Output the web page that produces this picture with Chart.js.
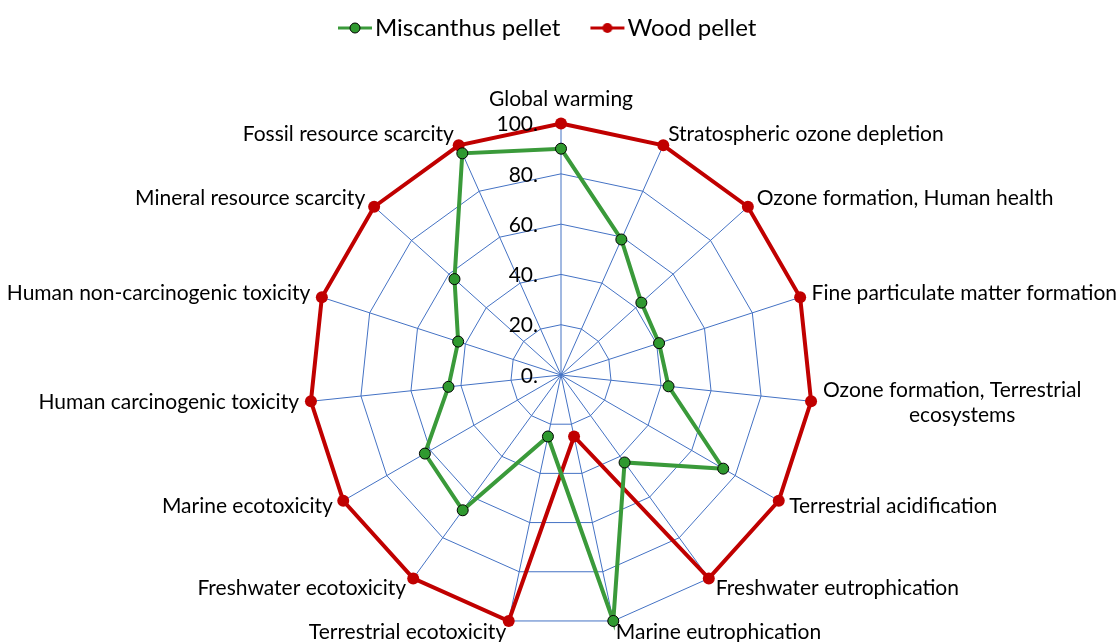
<!DOCTYPE html>
<html>
<head>
<meta charset="utf-8">
<script src="https://cdn.jsdelivr.net/npm/chart.js@4.4.1/dist/chart.umd.min.js"></script>
<style>
html, body { margin: 0; padding: 0; background: #fff; overflow: hidden; }
#wrap { position: relative; width: 1118px; height: 694px; }
</style>
</head>
<body>
<div id="wrap"><canvas id="radar"></canvas></div>
<script>
// categories
var categories = [
  "Global warming",
  "Stratospheric ozone depletion",
  "Ozone formation, Human health",
  "Fine particulate matter formation",
  ["Ozone formation, Terrestrial", "\u00a0".repeat(16) + "ecosystems"],
  "Terrestrial acidification",
  "Freshwater eutrophication",
  "Marine eutrophication",
  "Terrestrial ecotoxicity",
  "Freshwater ecotoxicity",
  "Marine ecotoxicity",
  "Human carcinogenic toxicity",
  "Human non-carcinogenic toxicity",
  "Mineral resource scarcity",
  "Fossil resource scarcity"
];

// series values (%)
var miscanthus = [90, 59, 43, 41, 43, 74.5, 43, 100, 25, 66.5, 62.5, 45, 43, 57, 96.5];
var wood = [100, 100, 100, 100, 100, 100, 100, 25, 100, 100, 100, 100, 100, 100, 100];

// tick labels
var tickValues = [0, 20, 40, 60, 80, 100];
var tickLabels = ["0.", "20.", "40.", "60.", "80.", "100."];

var FONT = "Lato";

// legend icon: line with a marker in the middle
function legendIcon(color, fill, border) {
  var c = document.createElement("canvas");
  c.width = 49;
  c.height = 16;
  var g = c.getContext("2d");
  g.strokeStyle = color;
  g.lineWidth = 3;
  g.beginPath();
  g.moveTo(12, 8);
  g.lineTo(46, 8);
  g.stroke();
  g.beginPath();
  g.arc(29, 8, 5, 0, Math.PI * 2);
  g.fillStyle = fill;
  g.fill();
  if (border) {
    g.lineWidth = 1;
    g.strokeStyle = border;
    g.stroke();
  }
  return c;
}

var icons = [
  legendIcon("#3a9a3a", "#2f992f", "#000"),
  legendIcon("#c00000", "#c00000", null)
];

// tick labels drawn at the scale's own ring positions
var tickLabelPlugin = {
  id: "tickLabelPlugin",
  afterDatasetsDraw: function (chart) {
    var s = chart.scales.r;
    var ctx = chart.ctx;
    ctx.save();
    ctx.font = "21px " + FONT;
    ctx.fillStyle = "#000";
    ctx.textAlign = "right";
    ctx.textBaseline = "middle";
    tickValues.forEach(function (v, i) {
      var p = s.getPointPositionForValue(0, v);
      ctx.fillText(tickLabels[i], p.x - 23, p.y + 1);
    });
    ctx.restore();
  }
};

// centre side labels vertically on their anchor, as Excel does
function centreLabels(scale) {
  var items = scale._pointLabelItems;
  if (!items) return;
  var n = items.length;
  items.forEach(function (it, i) {
    var deg = Math.round(i * 360 / n);
    if (deg === 0 || deg === 180) return;
    var h = it.bottom - it.top;
    var dy = (deg < 90 || deg > 270) ? h / 2 : -h / 2;
    it.y += dy;
    it.top += dy;
    it.bottom += dy;
  });
}

new Chart(document.getElementById("radar").getContext("2d"), {
  type: "radar",
  data: {
    labels: categories,
    datasets: [
      {
        label: "Miscanthus pellet",
        data: miscanthus,
        borderColor: "#3a9a3a",
        borderWidth: 4,
        pointBackgroundColor: "#2f992f",
        pointBorderColor: "#000",
        pointBorderWidth: 1,
        pointRadius: 5.5,
        fill: false,
        tension: 0
      },
      {
        label: "Wood pellet",
        data: wood,
        borderColor: "#c00000",
        borderWidth: 4,
        pointBackgroundColor: "#c00000",
        pointBorderColor: "#c00000",
        pointBorderWidth: 0,
        pointRadius: 6,
        fill: false,
        tension: 0
      }
    ]
  },
  options: {
    responsive: true,
    maintainAspectRatio: false,
    animation: false,
    layout: { padding: { left: 7, right: 0, top: -14, bottom: 0 } },
    plugins: {
      legend: {
        position: "top",
        labels: {
          usePointStyle: true,
          pointStyleWidth: 25,
          padding: 30,
          color: "#000",
          font: { family: FONT, size: 24 },
          generateLabels: function (chart) {
            return chart.data.datasets.map(function (ds, i) {
              return {
                text: i === 1 ? ds.label + "\u00a0".repeat(5) : ds.label,
                pointStyle: icons[i],
                fillStyle: ds.borderColor,
                strokeStyle: ds.borderColor,
                lineWidth: 0,
                hidden: false,
                datasetIndex: i,
                fontColor: "#000"
              };
            });
          }
        }
      },
      tooltip: { enabled: false }
    },
    scales: {
      r: {
        min: 0,
        max: 100,
        ticks: { display: false, stepSize: 20 },
        grid: { color: "#4472c4", lineWidth: 1 },
        angleLines: { color: "#4472c4", lineWidth: 1 },
        pointLabels: {
          color: "#000",
          padding: 12,
          font: { family: FONT, size: 21 }
        },
        afterFit: centreLabels
      }
    }
  },
  plugins: [tickLabelPlugin]
});
</script>
</body>
</html>
